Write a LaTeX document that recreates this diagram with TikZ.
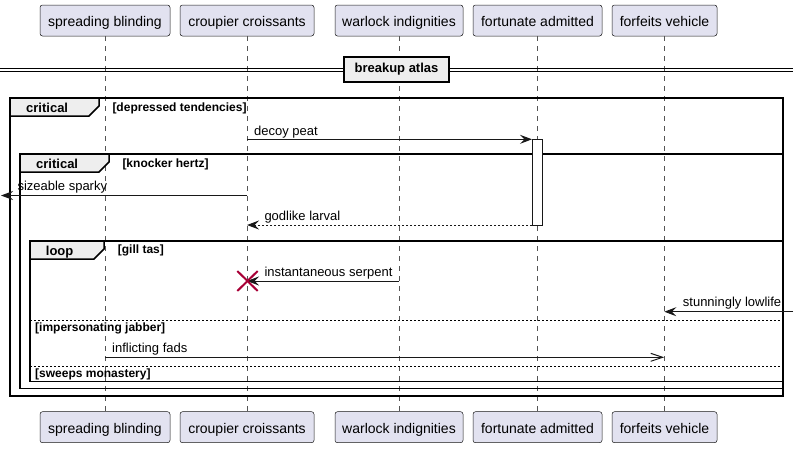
\documentclass[tikz,border=0pt]{standalone}
\usepackage{fontspec}
\setmainfont{Liberation Sans}
\usetikzlibrary{arrows.meta}
\definecolor{partfill}{HTML}{E2E2F0}
\definecolor{ink}{HTML}{181818}
\definecolor{tabfill}{HTML}{EEEEEE}
\definecolor{xred}{HTML}{A80036}
\definecolor{lifegray}{HTML}{555555}
\tikzset{
  part/.style={draw=ink, fill=partfill, rounded corners=2.5pt, line width=0.5pt,
    minimum height=31pt, inner sep=0pt, text height=14pt, text depth=1.6pt,
    font=\fontsize{14}{16}\selectfont},
  life/.style={draw=lifegray, dash pattern=on 5pt off 5pt, line width=0.5pt},
  msg/.style={draw=ink, line width=1pt},
  retmsg/.style={draw=ink, line width=1pt, dash pattern=on 2pt off 2pt},
  lbl/.style={anchor=base west, inner sep=0pt, font=\fontsize{13}{15}\selectfont},
  frame/.style={draw=black, line width=1.5pt},
  tabshape/.style={draw=black, fill=tabfill, line width=1.5pt},
  tabtxt/.style={anchor=base west, inner sep=0pt, font=\bfseries\fontsize{13}{15}\selectfont},
  cond/.style={anchor=base west, inner sep=0pt, font=\bfseries\fontsize{12}{14}\selectfont},
  sep/.style={draw=black, line width=1pt, dash pattern=on 2pt off 2pt},
  filledtip/.style={-{Stealth[length=12pt,width=9pt,inset=4.5pt]}},
  opentip/.style={-{Straight Barb[length=12pt,width=8pt,line width=1pt]}},
  actbox/.style={draw=ink, fill=white, line width=1pt},
  divbox/.style={draw=black, fill=tabfill, line width=2pt, inner sep=0pt,
    minimum width=105pt, minimum height=25pt, font=\bfseries\fontsize{13}{15}\selectfont},
}
\begin{document}
\begin{tikzpicture}[x=1pt, y=-1pt]
\useasboundingbox (0,0) rectangle (799,448);
% participants top
\node[part, minimum width=130pt] (a1) at (105,20.5) {spreading blinding};
\node[part, minimum width=134pt] (b1) at (247,20.5) {croupier croissants};
\node[part, minimum width=128pt] (c1) at (399,20.5) {warlock indignities};
\node[part, minimum width=129pt] (d1) at (537.5,20.5) {fortunate admitted};
\node[part, minimum width=105pt] (e1) at (664.5,20.5) {forfeits vehicle};
% participants bottom
\node[part, minimum width=130pt] (a2) at (105,427.2) {spreading blinding};
\node[part, minimum width=134pt] (b2) at (247,427.2) {croupier croissants};
\node[part, minimum width=128pt] (c2) at (399,427.2) {warlock indignities};
\node[part, minimum width=129pt] (d2) at (537.5,427.2) {fortunate admitted};
\node[part, minimum width=105pt] (e2) at (664.5,427.2) {forfeits vehicle};
% lifelines
\draw[life] (a1.south) -- (a2.north);
\draw[life] (b1.south) -- (b2.north);
\draw[life] (c1.south) -- (c2.north);
\draw[life] (d1.south) -- (d2.north);
\draw[life] (e1.south) -- (e2.north);
% divider
\coordinate (dl) at (0,68.3);
\coordinate (dr) at (793,68.3);
\coordinate (dl2) at (0,71);
\coordinate (dr2) at (793,71);
\draw[line width=1pt] (dl) -- (dr);
\draw[line width=1pt] (dl2) -- (dr2);
\node[divbox] (div) at (396.5,69.5) {breakup atlas};
% group frames
\draw[frame] (10,98) rectangle (783,396);
\draw[tabshape] (10,98) -- (99,98) -- (99,106) -- (89,116) -- (10,116) -- cycle;
\node[tabtxt] (g1t) at (26,112.5) {critical};
\node[cond] (g1c) at (112.3,111.5) {[depressed tendencies]};

\draw[frame] (20,154) rectangle (783,388.5);
\draw[tabshape] (20,154) -- (109,154) -- (109,162) -- (99,172) -- (20,172) -- cycle;
\node[tabtxt] (g2t) at (36,168.5) {critical};
\node[cond] (g2c) at (122.3,167.5) {[knocker hertz]};

\draw[frame] (30,241) rectangle (783,381.5);
\draw[tabshape] (30,241) -- (104,241) -- (104,249) -- (94,259) -- (30,259) -- cycle;
\node[tabtxt] (g3t) at (45.7,255) {loop};
\node[cond] (g3c) at (117.7,253.5) {[gill tas]};

\coordinate (s1l) at (30,320);
\coordinate (s1r) at (783,320);
\draw[sep] (s1l) -- (s1r);
\node[cond] (s1c) at (35,331.5) {[impersonating jabber]};
\coordinate (s2l) at (30,366);
\coordinate (s2r) at (783,366);
\draw[sep] (s2l) -- (s2r);
\node[cond] (s2c) at (35,377.5) {[sweeps monastery]};

% activation
\draw[actbox] (532,139.3) rectangle (542,225);

% messages
\coordinate (m1a) at (247,139.3);
\coordinate (m1b) at (532,139.3);
\draw[msg, filledtip] (m1a) -- (m1b);
\node[lbl] (m1l) at (254,135) {decoy peat};

\coordinate (m2a) at (247,195.5);
\coordinate (m2b) at (1,195.5);
\draw[msg, filledtip] (m2a) -- (m2b);
\node[lbl] (m2l) at (17.3,190.5) {sizeable sparky};

\coordinate (m3a) at (532,225);
\coordinate (m3b) at (247,225);
\draw[retmsg, filledtip] (m3a) -- (m3b);
\node[lbl] (m3l) at (264.3,220.5) {godlike larval};

\coordinate (m4a) at (399,281);
\coordinate (m4b) at (247,281);
\draw[msg, filledtip] (m4a) -- (m4b);
\node[lbl] (m4l) at (264.3,276.5) {instantaneous serpent};
\draw[xred, line width=2pt] (237.3,271) -- (257.7,291);
\draw[xred, line width=2pt] (237.3,291) -- (257.7,271);

\coordinate (m5a) at (793,311.7);
\coordinate (m5b) at (664.3,311.7);
\draw[msg, filledtip] (m5a) -- (m5b);
\node[lbl] (m5l) at (682.7,306.5) {stunningly lowlife};

\coordinate (m6a) at (105.3,357.3);
\coordinate (m6b) at (664.3,357.3);
\draw[msg, opentip] (m6a) -- (m6b);
\node[lbl] (m6l) at (112,352.7) {inflicting fads};
\end{tikzpicture}
\end{document}
